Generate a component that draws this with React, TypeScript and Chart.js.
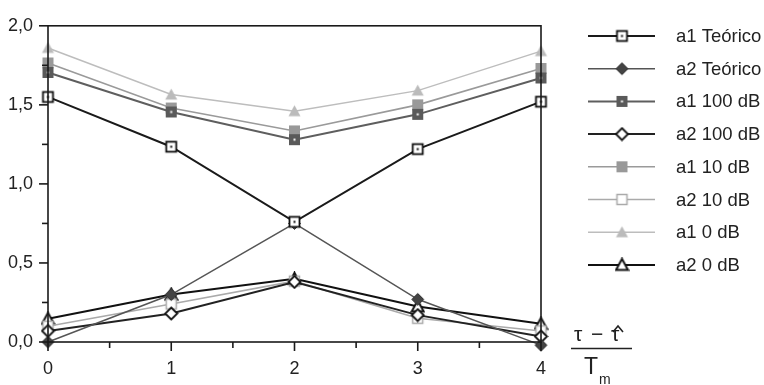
import React, { useEffect, useRef } from "react";
import { Chart, registerables } from "chart.js";

Chart.register(...registerables);

const xValues = [0, 1, 2, 3, 4];
const a1Teorico = [1.55, 1.235, 0.76, 1.22, 1.52];
const a2Teorico = [0.0, 0.3, 0.75, 0.27, -0.02];
const a1_100dB = [1.705, 1.455, 1.28, 1.44, 1.67];
const a2_100dB = [0.07, 0.18, 0.38, 0.17, 0.035];
const a1_10dB = [1.765, 1.48, 1.335, 1.5, 1.73];
const a2_10dB = [0.1, 0.24, 0.385, 0.15, 0.07];
const a1_0dB = [1.86, 1.565, 1.46, 1.59, 1.84];
const a2_0dB = [0.147, 0.3, 0.4, 0.225, 0.115];

const seriesNames = ["a1 Teórico", "a2 Teórico", "a1 100 dB", "a2 100 dB", "a1 10 dB", "a2 10 dB", "a1 0 dB", "a2 0 dB"];
const yTicks = [0, 0.5, 1, 1.5, 2];
const xTicks = [0, 1, 2, 3, 4];

const FONT = '"Liberation Sans", Arial, sans-serif';

function makeMarker(type: string): HTMLCanvasElement {
  const c = document.createElement("canvas");
  c.width = 15;
  c.height = 15;
  const g = c.getContext("2d")!;
  const cx = 7.5, cy = 7.5;
  const diamond = () => {
    g.beginPath();
    g.moveTo(cx, cy - 6);
    g.lineTo(cx + 6, cy);
    g.lineTo(cx, cy + 6);
    g.lineTo(cx - 6, cy);
    g.closePath();
  };
  const tri = () => {
    g.beginPath();
    g.moveTo(cx, cy - 6);
    g.lineTo(cx + 6, cy + 5);
    g.lineTo(cx - 6, cy + 5);
    g.closePath();
  };
  switch (type) {
    case "sqDot":
      g.fillStyle = "#fff";
      g.fillRect(2.5, 2.5, 10, 10);
      g.strokeStyle = "#111";
      g.lineWidth = 1.8;
      g.strokeRect(2.5, 2.5, 10, 10);
      g.fillStyle = "#111";
      g.fillRect(6.5, 6.5, 2, 2);
      break;
    case "diamondFill":
      diamond();
      g.fillStyle = "#444";
      g.fill();
      g.strokeStyle = "#333";
      g.lineWidth = 1;
      g.stroke();
      break;
    case "sqDark":
      g.fillStyle = "#5a5a5a";
      g.fillRect(2, 2, 11, 11);
      g.fillStyle = "#fff";
      g.fillRect(6.5, 6.5, 2, 2);
      break;
    case "diamondOpen":
      diamond();
      g.fillStyle = "#fff";
      g.fill();
      g.strokeStyle = "#111";
      g.lineWidth = 1.8;
      g.stroke();
      break;
    case "sqGray":
      g.fillStyle = "#999";
      g.fillRect(2, 2, 11, 11);
      break;
    case "sqOpen":
      g.fillStyle = "#fff";
      g.fillRect(2.5, 2.5, 10, 10);
      g.strokeStyle = "#aaa";
      g.lineWidth = 1.5;
      g.strokeRect(2.5, 2.5, 10, 10);
      break;
    case "triFill":
      tri();
      g.fillStyle = "#bbb";
      g.fill();
      break;
    case "triOpen":
      tri();
      g.fillStyle = "#fff";
      g.fill();
      g.strokeStyle = "#111";
      g.lineWidth = 2;
      g.stroke();
      break;
  }
  return c;
}

export default function App() {
  const ref = useRef<HTMLCanvasElement | null>(null);

  useEffect(() => {
    if (!ref.current) return;
    const markerTypes = ["sqDot", "diamondFill", "sqDark", "diamondOpen", "sqGray", "sqOpen", "triFill", "triOpen"];
    const markers = markerTypes.map(makeMarker);
    const colors = ["#1a1a1a", "#555", "#5e5e5e", "#222", "#9a9a9a", "#aaa", "#bdbdbd", "#111"];
    const widths = [2, 1.5, 2, 2, 1.6, 1.6, 1.5, 2];
    const series = [a1Teorico, a2Teorico, a1_100dB, a2_100dB, a1_10dB, a2_10dB, a1_0dB, a2_0dB];

    const datasets = series.map((s, i) => ({
      label: seriesNames[i],
      data: s.map((v, j) => ({ x: xValues[j], y: v })),
      borderColor: colors[i],
      borderWidth: widths[i],
      pointStyle: markers[i],
      pointRadius: 6,
      showLine: true,
      tension: 0,
      fill: false,
      clip: false as any,
    }));

    const framePlugin = {
      id: "frame",
      afterDraw(chart: any) {
        const ctx = chart.ctx;
        const a = chart.chartArea;
        const xs = chart.scales.x;
        const ys = chart.scales.y;
        ctx.save();
        ctx.strokeStyle = "#1a1a1a";
        ctx.lineWidth = 1.6;
        ctx.strokeRect(a.left, a.top, a.right - a.left, a.bottom - a.top);
        for (let v = 0; v <= 2.0001; v += 0.25) {
          const py = ys.getPixelForValue(v);
          const major = Math.abs(v * 2 - Math.round(v * 2)) < 1e-6;
          ctx.beginPath();
          ctx.moveTo(a.left - (major ? 9 : 6), py);
          ctx.lineTo(a.left, py);
          ctx.stroke();
        }
        for (let v = 0; v <= 4.0001; v += 0.5) {
          const px = xs.getPixelForValue(v);
          const major = Math.abs(v - Math.round(v)) < 1e-6;
          ctx.beginPath();
          ctx.moveTo(px, a.bottom);
          ctx.lineTo(px, a.bottom + (major ? 9 : 6));
          ctx.stroke();
        }
        // legend
        ctx.font = `18.5px ${FONT}`;
        ctx.textBaseline = "middle";
        ctx.textAlign = "left";
        for (let i = 0; i < seriesNames.length; i++) {
          const y = 36 + i * 32.7;
          ctx.strokeStyle = colors[i];
          ctx.lineWidth = widths[i];
          ctx.beginPath();
          ctx.moveTo(588, y);
          ctx.lineTo(655, y);
          ctx.stroke();
          ctx.drawImage(markers[i], 622 - 7.5, y - 7.5);
          ctx.fillStyle = "#222";
          ctx.fillText(seriesNames[i], 676, y + 1);
        }
        // axis title (fraction)
        ctx.fillStyle = "#222";
        ctx.font = `21px ${FONT}`;
        ctx.textBaseline = "alphabetic";
        ctx.textAlign = "left";
        ctx.fillText("τ", 574, 341);
        ctx.fillText("−", 591, 341);
        ctx.fillText("τ", 611, 341);
        ctx.lineWidth = 1.6;
        ctx.strokeStyle = "#222";
        ctx.beginPath();
        ctx.moveTo(613, 332);
        ctx.lineTo(618, 326);
        ctx.lineTo(623, 332);
        ctx.stroke();
        ctx.beginPath();
        ctx.moveTo(571, 348.5);
        ctx.lineTo(632, 348.5);
        ctx.stroke();
        ctx.font = `23px ${FONT}`;
        ctx.fillText("T", 584, 374);
        ctx.font = `14px ${FONT}`;
        ctx.fillText("m", 599, 384);
        ctx.restore();
      },
    };

    const chart = new Chart(ref.current, {
      type: "scatter",
      data: { datasets: datasets as any },
      options: {
        animation: false,
        responsive: false,
        maintainAspectRatio: false,
        layout: { padding: { left: 0, right: 223, top: 15, bottom: 0 } },
        plugins: { legend: { display: false }, tooltip: { enabled: false } },
        scales: {
          x: {
            type: "linear",
            min: 0,
            max: 4,
            afterFit: (s: any) => { s.height = 43; },
            grid: { display: false, drawTicks: false },
            border: { display: false },
            ticks: {
              stepSize: 1,
              padding: 16,
              color: "#222",
              font: { family: FONT, size: 18 },
              callback: (v: any) => (xTicks.includes(Number(v)) ? String(v) : ""),
            },
          },
          y: {
            type: "linear",
            min: 0,
            max: 2,
            afterFit: (s: any) => { s.width = 48; },
            grid: { display: false, drawTicks: false },
            border: { display: false },
            ticks: {
              stepSize: 0.5,
              padding: 15,
              color: "#222",
              font: { family: FONT, size: 18 },
              callback: (v: any) =>
                yTicks.some((t) => Math.abs(t - Number(v)) < 1e-6) ? Number(v).toFixed(1).replace(".", ",") : "",
            },
          },
        },
      },
      plugins: [framePlugin],
    });
    return () => chart.destroy();
  }, []);

  return (
    <div style={{ position: "fixed", left: 0, top: 0, width: 764, height: 385, background: "#fff" }}>
      <canvas ref={ref} width={764} height={385} style={{ width: 764, height: 385, display: "block" }} />
    </div>
  );
}
